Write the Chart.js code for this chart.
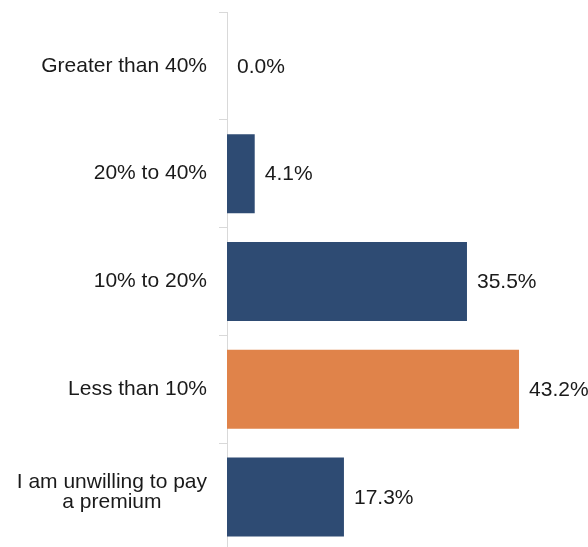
<!DOCTYPE html>
<html>
<head>
<meta charset="utf-8">
<script src="https://cdn.jsdelivr.net/npm/chart.js@4"></script>
<style>
  html, body { margin: 0; padding: 0; background: #fff; overflow: hidden; }
  #wrap { width: 588px; height: 560px; position: relative; }
</style>
</head>
<body>
<div id="wrap"><canvas id="chart"></canvas></div>
<script>
// data
const categories = ['Greater than 40%', '20% to 40%', '10% to 20%', 'Less than 10%', ['I am unwilling to pay', 'a premium']];
const values = [0.0, 4.1, 35.5, 43.2, 17.3];

const BLUE = '#2e4b73';
const ORANGE = '#e0834a';
const barColors = [BLUE, BLUE, BLUE, ORANGE, BLUE];
const FONT = '21px "Liberation Sans", Arial, sans-serif';

// value labels at the end of each bar
const valueLabels = {
  id: 'valueLabels',
  afterDatasetsDraw(chart) {
    const ctx = chart.ctx;
    const meta = chart.getDatasetMeta(0);
    ctx.save();
    ctx.font = FONT;
    ctx.fillStyle = '#1a1a1a';
    ctx.textAlign = 'left';
    ctx.textBaseline = 'middle';
    meta.data.forEach(function (bar, i) {
      ctx.fillText(values[i].toFixed(1) + '%', bar.x + 10, bar.y + 1);
    });
    ctx.restore();
  }
};

// category labels: right aligned, multi-line ones centred on themselves
const categoryLabels = {
  id: 'categoryLabels',
  afterDraw(chart) {
    const ctx = chart.ctx;
    const yScale = chart.scales.y;
    const rightX = 207;
    ctx.save();
    ctx.font = FONT;
    ctx.fillStyle = '#1a1a1a';
    ctx.textBaseline = 'middle';
    categories.forEach(function (label, i) {
      const y = yScale.getPixelForTick(i);
      if (Array.isArray(label)) {
        const widest = Math.max.apply(null, label.map(l => ctx.measureText(l).width));
        const cx = rightX - widest / 2;
        ctx.textAlign = 'center';
        label.forEach(function (line, k) {
          ctx.fillText(line, cx, y + (k - (label.length - 1) / 2) * 20 - 5);
        });
      } else {
        ctx.textAlign = 'right';
        ctx.fillText(label, rightX, y);
      }
    });
    ctx.restore();
  }
};

new Chart(document.getElementById('chart'), {
  type: 'bar',
  data: {
    labels: categories,
    datasets: [{
      data: values,
      backgroundColor: barColors,
      borderWidth: 0,
      categoryPercentage: 1,
      barPercentage: 0.733
    }]
  },
  options: {
    indexAxis: 'y',
    responsive: true,
    maintainAspectRatio: false,
    animation: false,
    layout: { padding: { top: 12, right: 23, bottom: 9, left: 0 } },
    plugins: {
      legend: { display: false },
      tooltip: { enabled: false }
    },
    scales: {
      x: { display: false, min: 0, max: 50 },
      y: {
        afterFit(scale) { scale.width = 227; },
        ticks: { display: false },
        grid: {
          offset: true,
          drawOnChartArea: false,
          drawTicks: true,
          tickLength: 8,
          color: '#d9d9d9'
        },
        border: { display: true, color: '#d9d9d9', width: 1 }
      }
    }
  },
  plugins: [valueLabels, categoryLabels]
});
</script>
</body>
</html>
